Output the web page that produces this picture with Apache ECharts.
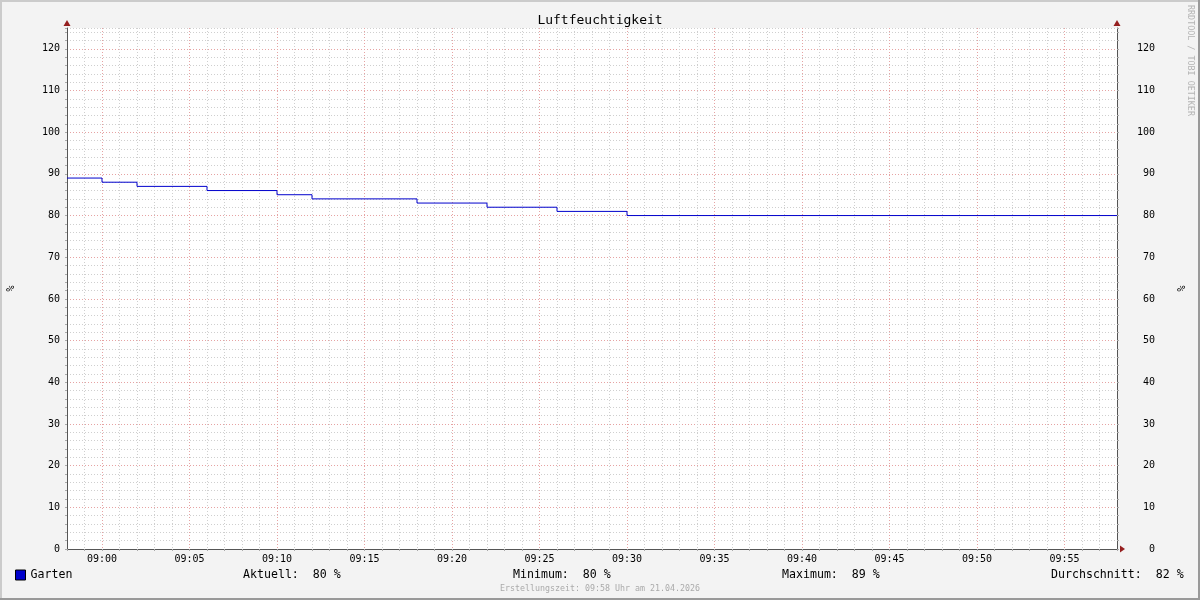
<!DOCTYPE html>
<html>
<head>
<meta charset="utf-8">
<script src="https://cdn.jsdelivr.net/npm/echarts@6/dist/echarts.min.js"></script>
<style>
html,body{margin:0;padding:0;background:#f3f3f3;}
#c{width:1200px;height:600px;}
</style>
</head>
<body>
<div id="c"></div>
<script>
// ---- data ----
const changeTimes = ['08:58','09:00','09:02','09:06','09:10','09:12','09:18','09:22','09:26','09:30','09:58'];
const humidity    = [89, 88, 87, 86, 85, 84, 83, 82, 81, 80, 80];
const seriesName  = 'Garten';
const yTickLabels = [0,10,20,30,40,50,60,70,80,90,100,110,120];
const statLabels  = ['Aktuell:', 'Minimum:', 'Maximum:', 'Durchschnitt:'];
const statValues  = [80, 80, 89, 82];
const titleText   = 'Luftfeuchtigkeit';
const unitText    = '%';
const footerText  = 'Erstellungszeit: 09:58 Uhr am 21.04.2026';
const watermark   = 'RRDTOOL / TOBI OETIKER';

const toMin = t => { const p = t.split(':'); return (+p[0]) * 60 + (+p[1]); };
const fmtMin = v => { const h = Math.floor(v / 60), m = v % 60; return String(h).padStart(2,'0') + ':' + String(m).padStart(2,'0'); };
const xMin = toMin(changeTimes[0]);
const xMax = toMin(changeTimes[changeTimes.length - 1]);
const data = changeTimes.map((t, i) => [toMin(t), humidity[i]]);

const FONT = 'DejaVu Sans Mono';
const MINOR = '#cfcfcf';
const MAJOR = '#e6a3a3';
const AXIS = '#555555';
const ARROW = '#951f1f';

const G = {left: 67, right: 83, top: 28, bottom: 51};
const W = 1200, H = 600;
const plotR = W - G.right, plotB = H - G.bottom;

// x split line colours: major every 5 minutes
const xColors = [];
for (let i = 0; i < 5; i++) xColors.push(((xMin + i) % 5 === 0) ? MAJOR : MINOR);

const yAxisBase = {
  type: 'value', min: 0, max: 125, interval: 2,
  axisLine: {show: true, lineStyle: {color: AXIS, width: 1}},
  axisTick: {show: true, length: 2, lineStyle: {color: '#aaa'}},
  axisLabel: {
    color: '#000', fontFamily: FONT, fontSize: 10,
    formatter: v => (yTickLabels.indexOf(v) >= 0 ? String(v) : '')
  },
  name: unitText, nameLocation: 'middle', nameRotate: 90,
  nameTextStyle: {fontFamily: FONT, fontSize: 10, color: '#000'}
};

const stats = statLabels.map((l, i) => l + '  ' + statValues[i] + ' %');
const statX = [243, 513, 782, 1051];

const chart = echarts.init(document.getElementById('c'), null, {renderer: 'canvas'});
chart.setOption({
  animation: false,
  backgroundColor: '#f3f3f3',
  title: {
    text: titleText, left: 'center', top: 14, padding: 0,
    textStyle: {fontFamily: FONT, fontSize: 13, fontWeight: 'normal', color: '#000'}
  },
  legend: {
    data: [seriesName], left: 15, top: 569, padding: 0,
    icon: 'rect', itemWidth: 10, itemHeight: 10,
    itemStyle: {color: '#0000cc', borderColor: '#000', borderWidth: 1},
    textStyle: {fontFamily: FONT, fontSize: 11.6, color: '#000'}
  },
  grid: {left: G.left, right: G.right, top: G.top, bottom: G.bottom,
         containLabel: false, outerBoundsMode: 'none',
         show: true, backgroundColor: '#ffffff', borderWidth: 0},
  xAxis: {
    type: 'value', min: xMin, max: xMax, interval: 1,
    axisLine: {show: true, lineStyle: {color: AXIS, width: 1}},
    axisTick: {show: true, length: 2, lineStyle: {color: '#aaa'}},
    axisLabel: {
      color: '#000', fontFamily: FONT, fontSize: 10, margin: 5,
      showMinLabel: true, showMaxLabel: true,
      formatter: v => (v % 5 === 0 && v > xMin && v < xMax ? fmtMin(v) : '')
    },
    splitLine: {show: true, lineStyle: {color: xColors, width: 1, type: [1, 2]}}
  },
  yAxis: [
    Object.assign({}, yAxisBase, {
      position: 'left', nameGap: 51,
      axisLabel: Object.assign({}, yAxisBase.axisLabel, {margin: 7, padding: [2, 0, 0, 0]}),
      splitLine: {show: true, lineStyle: {color: [MAJOR, MINOR, MINOR, MINOR, MINOR], width: 1, type: [1, 2]}}
    }),
    Object.assign({}, yAxisBase, {
      position: 'right', nameGap: 60,
      axisLabel: Object.assign({}, yAxisBase.axisLabel, {margin: 38, align: 'right', padding: [2, 0, 0, 0]}),
      splitLine: {show: false}
    })
  ],
  series: [{
    name: seriesName, type: 'line', step: 'end', data: data,
    yAxisIndex: 0, showSymbol: false, symbol: 'none',
    lineStyle: {color: '#0000cc', width: 1}, itemStyle: {color: '#0000cc'},
    z: 5
  }],
  graphic: [
    // frame shading
    {type: 'rect', shape: {x: 0, y: 0, width: W, height: 2}, style: {fill: '#cbcbcb'}, silent: true},
    {type: 'rect', shape: {x: 0, y: 0, width: 2, height: H}, style: {fill: '#cbcbcb'}, silent: true},
    {type: 'rect', shape: {x: 0, y: H - 2, width: W, height: 2}, style: {fill: '#999999'}, silent: true},
    {type: 'rect', shape: {x: W - 2, y: 0, width: 2, height: H}, style: {fill: '#999999'}, silent: true},
    // arrows
    {type: 'polygon', shape: {points: [[G.left - 3.5, G.top - 2], [G.left + 3.5, G.top - 2], [G.left, G.top - 8]]}, style: {fill: ARROW}, silent: true, z: 10},
    {type: 'polygon', shape: {points: [[plotR - 3.5, G.top - 2], [plotR + 3.5, G.top - 2], [plotR, G.top - 8]]}, style: {fill: ARROW}, silent: true, z: 10},
    {type: 'polygon', shape: {points: [[plotR + 3, plotB - 3.5], [plotR + 3, plotB + 3.5], [plotR + 8, plotB]]}, style: {fill: ARROW}, silent: true, z: 10},
    // stats
    ...stats.map((s, i) => ({
      type: 'text', x: statX[i], y: 575, silent: true,
      style: {text: s, fontFamily: FONT, fontSize: 11.6, fill: '#000', textVerticalAlign: 'middle', textAlign: 'left'}
    })),
    // footer
    {type: 'text', x: 600, y: 589, silent: true,
     style: {text: footerText, fontFamily: FONT, fontSize: 8.3, fill: '#aaaaaa', textAlign: 'center', textVerticalAlign: 'middle'}},
    // watermark
    {type: 'text', x: 1190, y: 5, rotation: -Math.PI / 2, silent: true,
     style: {text: watermark, fontFamily: FONT, fontSize: 8.4, fill: '#b4b4b4', textAlign: 'left', textVerticalAlign: 'middle'}}
  ]
});
</script>
</body>
</html>
